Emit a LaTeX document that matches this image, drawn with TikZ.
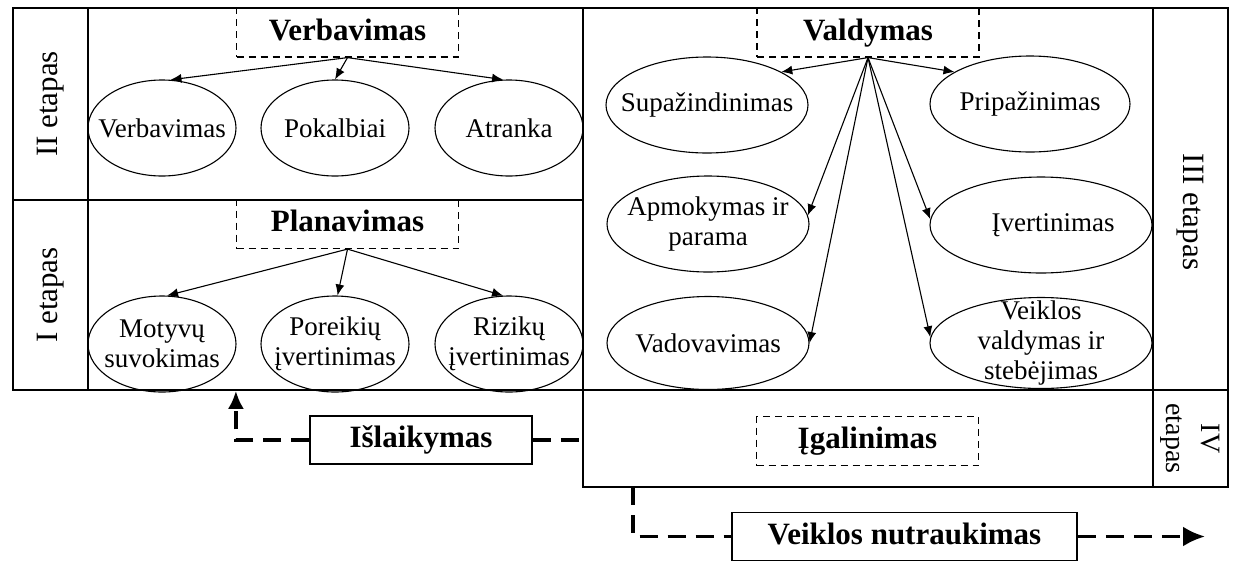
\documentclass[tikz,border=0pt]{standalone}
\usepackage{fontspec}
\setmainfont{Liberation Serif}
\usetikzlibrary{positioning}
\usetikzlibrary{shapes.geometric}
\usetikzlibrary{arrows.meta}

\begin{document}
\begin{tikzpicture}[x=1pt, y=-1pt, >={Latex[length=11pt,width=9pt]},
			panel/.style={draw, line width=1.6pt, inner sep=0pt},
			cell/.style={panel, minimum height=75pt, font=\fontsize{31}{34}\selectfont},
			stagebox/.style={draw, dash pattern=on 7pt off 5pt, line width=1.2pt, minimum width=222pt, minimum height=49pt, text height=22pt, text depth=7pt, font=\bfseries\fontsize{31}{34}\selectfont},
			task/.style={draw, ellipse, line width=1.1pt, inner sep=-20pt, minimum width=148pt, minimum height=96pt, font=\fontsize{27}{30}\selectfont},
			link/.style={draw, ->, line width=1.1pt},
			outbox/.style={draw, line width=1.6pt, minimum height=48pt, text height=22pt, text depth=7pt, font=\bfseries\fontsize{31}{34}\selectfont},
			flowline/.style={line width=3.5pt, dash pattern=on 18pt off 10pt},
			flowarrow/.style={flowline, -{Latex[length=18pt,width=16pt]}},
			every text node part/.style={align=center}]
			\useasboundingbox (0,0) rectangle (1233,560);
			
			% stage cells and panels
			\node[cell, rotate=90, minimum width=192pt](node1) at (50.5,104) {II etapas};
			\node[panel, minimum width=495pt, minimum height=192pt](node2) at (335.5,104) {};
			\node[cell, rotate=90, minimum width=190pt](node3) at (50.5,295) {I etapas};
			\node[panel, minimum width=495pt, minimum height=190pt](node4) at (335.5,295) {};
			\node[panel, minimum width=570pt, minimum height=382pt](node5) at (868,199) {};
			\node[cell, rotate=-90, minimum width=382pt](node6) at (1190.5,199) {\hspace*{26pt}III etapas};
			\node[panel, minimum width=570pt, minimum height=97pt](node7) at (868,438.5) {};
			\node[cell, rotate=-90, minimum width=97pt, font=\fontsize{28}{35}\selectfont](node8) at (1190.5,438.5) {IV\\etapas};
			
			% dashed headings
			\node[stagebox](node9) at (347.5,32.5) {Verbavimas};
			\node[stagebox](node10) at (347.5,224) {Planavimas};
			\node[stagebox](node11) at (868,32.5) {Valdymas};
			\node[stagebox](node12) at (867.5,441) {Įgalinimas};
			
			% ellipses
			\node[task](node13) at (162,128) {Verbavimas};
			\node[task](node14) at (335,128) {Pokalbiai};
			\node[task](node15) at (509,128) {Atranka};
			\node[task](node16) at (162,344) {Motyvų\\suvokimas};
			\node[task](node17) at (335,344) {Poreikių\\įvertinimas};
			\node[task](node18) at (509,344) {Rizikų\\įvertinimas};
			
			\node[task, minimum width=202pt](node19) at (707,105) {Supažindinimas};
			\node[task, minimum width=200pt](node20) at (1030,104) {Pripažinimas};
			\node[task, minimum width=202pt](node21) at (708,224) {Apmokymas ir\\parama};
			\node[task, minimum width=222pt](node22) at (1041,225) {\hspace*{24pt}Įvertinimas};
			\node[task, minimum width=202pt, minimum height=93pt](node23) at (708,343) {Vadovavimas};
			\node[task, minimum width=222pt, minimum height=91pt](node24) at (1041,343) {Veiklos\\valdymas ir\\stebėjimas};
			
			\path (node9.south) edge[link] (node13.80) edge[link] (node14.north) edge[link] (node15.97);
			\path (node10.south) edge[link] (node16.84) edge[link] (node17.87) edge[link] (node18.97);
			\path (node11.south) edge[link] (node19.24) edge[link] (node20.157) edge[link] (node21.5)
				edge[link] (node23.east) edge[link] (node22.177) edge[link] (node24.177);
			
			% outcomes
			\node[outbox, minimum width=222pt](node25) at (421,440) {Išlaikymas};
			\node[outbox, minimum width=345pt](node26) at (904.5,536.5) {Veiklos nutraukimas};
			\coordinate (node27) at (633,487);
			\coordinate (node28) at (1205,536.5);
			
			\draw[flowline] (node25.east) -- (node7.west |- node25.east);
			\draw[flowarrow] (node25.west) -| (node10.west |- node4.south);
			\draw[flowline] (node27) |- (node26.west);
			\draw[flowarrow, -{Latex[length=22pt,width=20pt]}] (node26.east) -- (node28);
			\end{tikzpicture}
\end{document}
